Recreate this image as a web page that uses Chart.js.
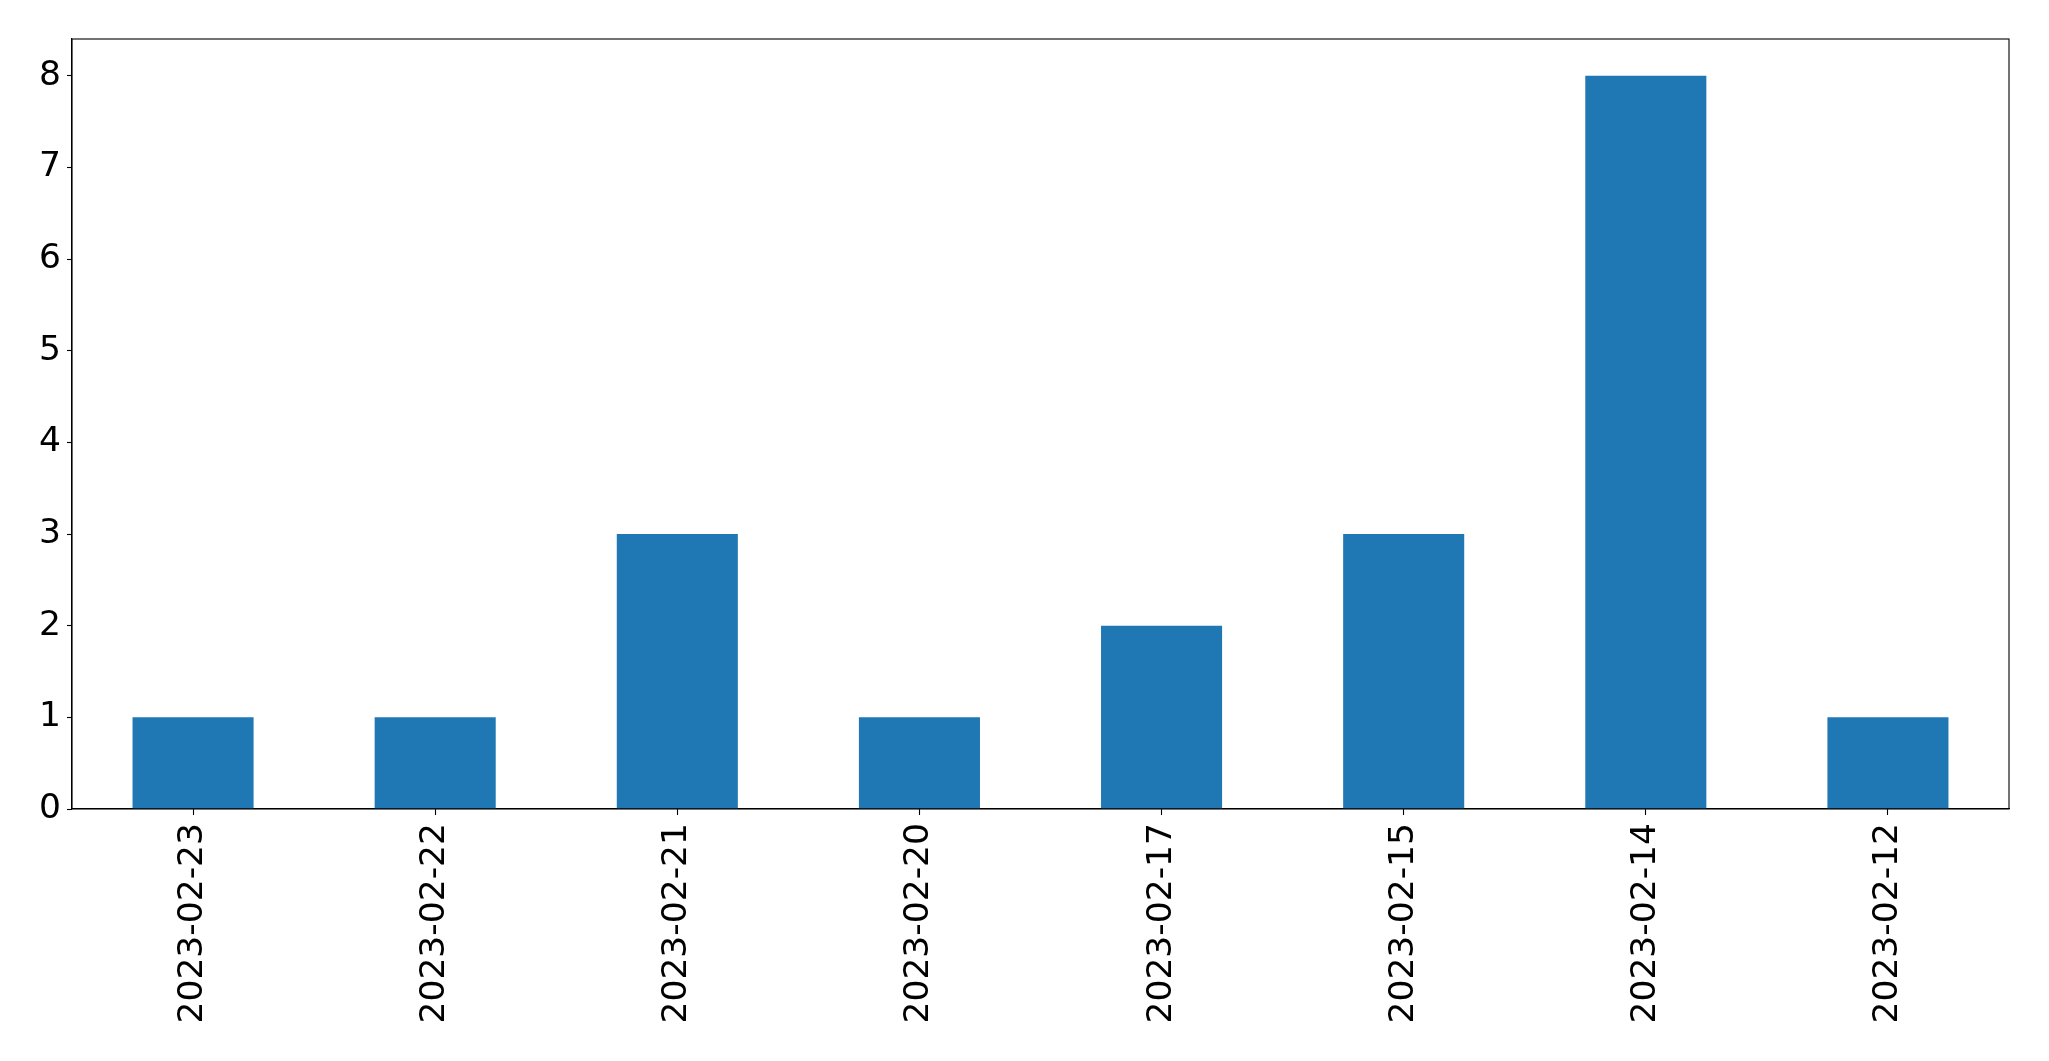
<!DOCTYPE html>
<html>
<head>
<meta charset="utf-8">
<script src="https://cdn.jsdelivr.net/npm/chart.js@4.4.0/dist/chart.umd.min.js"></script>
<style>
  html, body { margin: 0; padding: 0; background: #fff; }
  #wrap { width: 2049px; height: 1061px; }
</style>
</head>
<body>
<div id="wrap"><canvas id="myChart"></canvas></div>
<script>
var dates = ['2023-02-23', '2023-02-22', '2023-02-21', '2023-02-20', '2023-02-17', '2023-02-15', '2023-02-14', '2023-02-12'];
var counts = [1, 1, 3, 1, 2, 3, 8, 1];
var yTicks = [0, 1, 2, 3, 4, 5, 6, 7, 8];

var barColor = '#1f77b4';

// box round the plot, like matplotlib's frame
var frame = {
  id: 'frame',
  afterDraw: function(chart) {
    var a = chart.chartArea, c = chart.ctx;
    c.save();
    c.strokeStyle = '#000';
    c.lineWidth = 1.1;
    c.strokeRect(a.left, a.top, a.right - a.left, a.bottom - a.top);
    c.restore();
  }
};

var ctx = document.getElementById('myChart');

new Chart(ctx, {
  type: 'bar',
  data: {
    labels: dates,
    datasets: [{
      data: counts,
      backgroundColor: barColor,
      borderWidth: 0,
      categoryPercentage: 1,
      barPercentage: 0.5
    }]
  },
  options: {
    responsive: true,
    maintainAspectRatio: false,
    animation: false,
    layout: { padding: { left: 0, top: 39, right: 40, bottom: 0 } },
    plugins: { legend: { display: false }, tooltip: { enabled: false } },
    scales: {
      x: {
        afterFit: function(scale) { scale.height = 252; },
        grid: { offset: false, drawOnChartArea: false, tickLength: 6, color: '#000', tickWidth: 1.1 },
        border: { color: '#000', width: 1.1 },
        ticks: {
          minRotation: 90, maxRotation: 90, padding: 8,
          color: '#000',
          font: { family: 'DejaVu Sans', size: 34.5 }
        }
      },
      y: {
        min: 0, max: 8.4,
        afterFit: function(scale) { scale.width = 72; },
        afterBuildTicks: function(scale) {
          scale.ticks = yTicks.map(function(v) { return { value: v }; });
        },
        grid: { drawOnChartArea: false, tickLength: 5, color: '#000', tickWidth: 1.1 },
        border: { color: '#000', width: 1.1 },
        ticks: {
          padding: 6,
          color: '#000',
          font: { family: 'DejaVu Sans', size: 34.5 }
        }
      }
    }
  },
  plugins: [frame]
});
</script>
</body>
</html>
